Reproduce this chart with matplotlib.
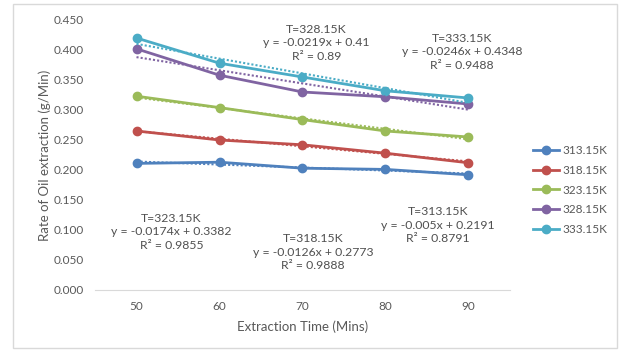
import matplotlib.pyplot as plt
from matplotlib.patches import Rectangle
import numpy as np

plt.rcParams['font.family'] = ['Lato', 'DejaVu Sans']

times = [50, 60, 70, 80, 90]
labels = ["313.15K", "318.15K", "323.15K", "328.15K", "333.15K"]
r313 = [0.211, 0.213, 0.203, 0.201, 0.192]
r318 = [0.265, 0.250, 0.242, 0.228, 0.212]
r323 = [0.323, 0.304, 0.284, 0.265, 0.255]
r328 = [0.402, 0.358, 0.330, 0.322, 0.310]
r333 = [0.420, 0.378, 0.355, 0.332, 0.320]
series = [r313, r318, r323, r328, r333]
colors = ["#4F81BD", "#C0504D", "#9BBB59", "#8064A2", "#4BACC6"]

# trendlines as printed on the chart (x = point index 1..5)
slopes = [-0.005, -0.0126, -0.0174, -0.0219, -0.0246]
intercepts = [0.2191, 0.2773, 0.3382, 0.41, 0.4348]
r2 = ["0.8791", "0.9888", "0.9855", "0.89", "0.9488"]
eq_text = ["y = -0.005x + 0.2191", "y = -0.0126x + 0.2773", "y = -0.0174x + 0.3382",
           "y = -0.0219x + 0.41", "y = -0.0246x + 0.4348"]
# label centre (data coords)
eq_pos = [(86.3, 0.108), (71.3, 0.063), (54.2, 0.097), (71.7, 0.412), (89.2, 0.397)]

fig = plt.figure(figsize=(6.19, 3.52), dpi=100)
fig.patches.append(Rectangle((13 / 619, 4 / 352), 604 / 619, 344 / 352, transform=fig.transFigure,
                             fill=False, edgecolor="#D9D9D9", linewidth=1))
ax = fig.add_axes([95 / 619, 62 / 352, 415 / 619, 270 / 352])

idx = np.arange(1, 6)
for vals, lab, c, m, b in zip(series, labels, colors, slopes, intercepts):
    ax.plot(times, vals, color=c, lw=2, marker="o", ms=6, label=lab, zorder=3)
    ax.plot(times, m * idx + b, color=c, lw=1.5, ls=(0, (1, 1)), zorder=4)

for lab, eq, r, (x, y) in zip(labels, eq_text, r2, eq_pos):
    ax.text(x, y, "T=" + lab + "\n" + eq + "\nR² = " + r, ha="center", va="center",
            multialignment="center", fontsize=8.8, color="#505050", linespacing=1.3,
            clip_on=False, zorder=5)

ax.set_xlim(45, 95)
ax.set_ylim(0, 0.45)
ax.set_xticks(times)
ax.set_yticks(np.arange(0, 0.451, 0.05))
ax.set_yticklabels(["%.3f" % v for v in np.arange(0, 0.451, 0.05)])
ax.tick_params(length=0, labelsize=8.5, labelcolor="#595959", pad=8)
for s in ["top", "right", "left"]:
    ax.spines[s].set_visible(False)
ax.spines["bottom"].set_color("#D9D9D9")
ax.set_xlabel("Extraction Time (Mins)", fontsize=9.5, color="#595959", labelpad=6)
ax.set_ylabel("Rate of Oil extraction (g/Min)", fontsize=9.5, color="#595959", labelpad=2)

ax.legend(loc="center left", bbox_to_anchor=(1.03, 0.37), frameon=False, fontsize=8.5,
          labelcolor="#595959", handlelength=2.2, handletextpad=0.3, labelspacing=0.75)

fig.savefig("out.png", dpi=100)
